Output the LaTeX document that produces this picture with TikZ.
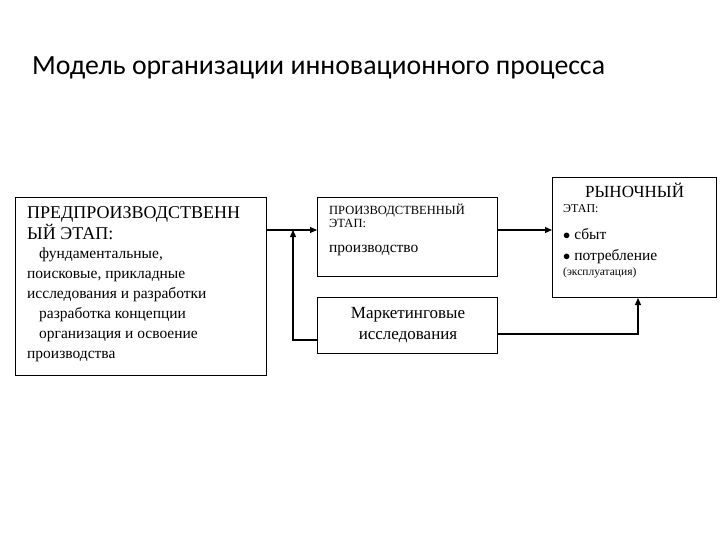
\documentclass[tikz,border=0pt]{standalone}
\usepackage{fontspec}
\setmainfont{Liberation Serif}
\newfontfamily\titlefont{Carlito}
\usetikzlibrary{arrows.meta}
\begin{document}
\begin{tikzpicture}[x=1pt,y=-1pt,
  box/.style={draw,line width=0.9pt,inner sep=0pt},
  conn/.style={line width=1.1pt,-{Triangle[length=7pt,width=6pt]}},
  txt/.style={anchor=north west,inner sep=0pt,align=left}]
\useasboundingbox (0,0) rectangle (720,540);
\node[anchor=west,inner sep=0pt,font=\titlefont\fontsize{27.8}{32}\selectfont] (title) at (32,68) {Модель организации инновационного процесса};
\node[box,minimum width=251pt,minimum height=178pt,anchor=north west] (pre) at (15,197) {};
\node[box,minimum width=180pt,minimum height=79pt,anchor=north west] (prod) at (317,197) {};
\node[box,minimum width=164pt,minimum height=120pt,anchor=north west] (mkt) at (552,177) {};
\node[box,minimum width=180pt,minimum height=56pt,anchor=north west] (res) at (317,297) {};
\node[txt,font=\fontsize{18}{21}\selectfont] (pret1) at (27,206) {ПРЕДПРОИЗВОДСТВЕНН\\ЫЙ ЭТАП:};
\node[txt,font=\fontsize{15.5}{20}\selectfont] (pret2) at (27,248) {\hspace*{12pt}фундаментальные,\\поисковые, прикладные\\исследования и разработки\\\hspace*{12pt}разработка концепции\\\hspace*{12pt}организация и освоение\\производства};
\node[txt,font=\fontsize{12.5}{13}\selectfont] (prodt1) at (329,204) {ПРОИЗВОДСТВЕННЫЙ\\ЭТАП:};
\node[txt,font=\fontsize{15.5}{16}\selectfont] (prodt2) at (329,245) {производство};
\node[txt,font=\fontsize{17}{18}\selectfont] (mktt1) at (585,183) {РЫНОЧНЫЙ};
\node[txt,font=\fontsize{12}{14}\selectfont] (mktt2) at (563,204) {ЭТАП:};
\node[txt,font=\fontsize{15.5}{21}\selectfont] (mktt3) at (563,228) {$\bullet$ сбыт\\$\bullet$ потребление};
\node[txt,font=\fontsize{11.5}{13}\selectfont] (mktt4) at (563,267) {(эксплуатация)};
\node[align=center,inner sep=0pt,font=\fontsize{17}{21}\selectfont] (rest) at (408,325) {Маркетинговые\\исследования};
\coordinate (a1) at (266,230);
\coordinate (a2) at (317,230);
\draw[conn] (a1) -- (a2);
\coordinate (b1) at (497,230);
\coordinate (b2) at (552,230);
\draw[conn] (b1) -- (b2);
\coordinate (c1) at (317,340);
\coordinate (c2) at (293,340);
\coordinate (c3) at (293,230);
\draw[conn] (c1) -- (c2) -- (c3);
\coordinate (d1) at (497,334);
\coordinate (d2) at (638,334);
\coordinate (d3) at (638,298);
\draw[conn] (d1) -- (d2) -- (d3);
\end{tikzpicture}
\end{document}
